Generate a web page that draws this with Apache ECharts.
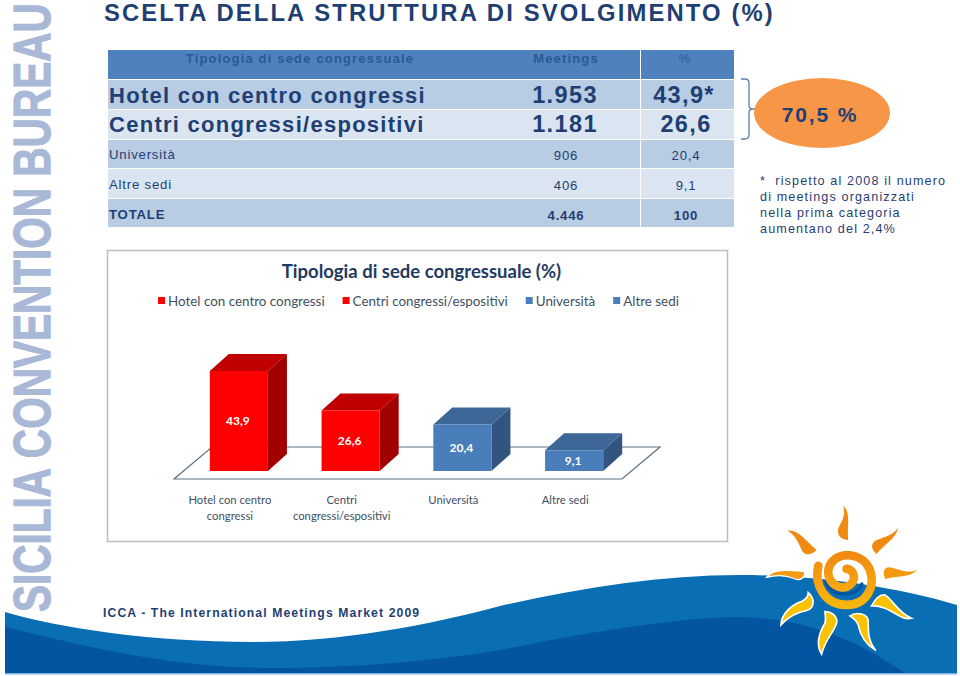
<!DOCTYPE html>
<html><head><meta charset="utf-8">
<style>
html,body{margin:0;padding:0;background:#fff}
#c{width:960px;height:676px}
svg text{letter-spacing:.09em}
svg text[style*="Lato"],svg text[style*="53px"]{letter-spacing:0}
svg text[style*="22px"],svg text[style*="23.5px"]{letter-spacing:.058em}
svg text[style*="13.2px"]{letter-spacing:.06em}
</style>
<script src="https://cdn.jsdelivr.net/npm/echarts@6/dist/echarts.min.js"></script>
</head><body><div id="c"></div>
<script>
var pageTitle = 'SCELTA DELLA STRUTTURA DI SVOLGIMENTO (%)';
var sideBrand = 'SICILIA CONVENTION BUREAU';
var source = 'ICCA - The International Meetings Market 2009';
var tableHead = ['Tipologia di sede congressuale', 'Meetings', '%'];
var tableNames = ['Hotel con centro congressi', 'Centri congressi/espositivi', 'Università', 'Altre sedi', 'TOTALE'];
var tableMeetings = ['1.953', '1.181', '906', '406', '4.446'];
var tablePercent = ['43,9*', '26,6', '20,4', '9,1', '100'];
var calloutText = '70,5 %';
var noteLines = ['*  rispetto al 2008 il numero', 'di meetings organizzati', 'nella prima categoria', 'aumentano del 2,4%'];
var chartTitle = 'Tipologia di sede congressuale (%)';
var categories = ['Hotel con centro\ncongressi', 'Centri\ncongressi/espositivi', 'Università', 'Altre sedi'];
var seriesNames = ['Hotel con centro congressi', 'Centri congressi/espositivi', 'Università', 'Altre sedi'];
var values = [43.9, 26.6, 20.4, 9.1];
var barColors = ['#fe0000', '#fe0000', '#4a7ebb', '#4a7ebb'];
var barTops = ['#c00000', '#c00000', '#3d6797', '#3d6797'];
var barSides = ['#a00000', '#a00000', '#31557f', '#31557f'];

var navy = '#1f3f73';
var FONT = 'Liberation Sans';
var CHARTFONT = 'Lato';
var under = [], over = [];
function add(el, z) { (z >= 3 ? over : under).push(el); }
function T(x, y, s, size, o) {
  o = o || {};
  add({ type: 'text', x: x, y: y, z2: 10,
    style: { text: s, fill: o.c || navy, font: (o.b ? 'bold ' : '') + size + 'px "' + (o.f || FONT) + '"',
      textAlign: o.a || 'left', textVerticalAlign: 'middle' } }, 5);
}
function R(x, y, w, h, c, z) {
  add({ type: 'rect', shape: { x: x, y: y, width: w, height: h }, style: { fill: c } }, z || 1);
}
function P(d, style, z, extra) {
  var e = { type: 'path', shape: { pathData: d }, style: style };
  if (extra) for (var k in extra) e[k] = extra[k];
  add(e, z || 1);
}

// page heading and side lettering
T(104, 12, pageTitle, 23.8, { b: 1 });
add({ type: 'text', x: 58, y: 612, rotation: Math.PI / 2, scaleX: 0.765, scaleY: 0.97,
  style: { text: sideBrand, font: 'bold 53px "' + FONT + '"', textAlign: 'left', textVerticalAlign: 'bottom',
    fill: '#a9b8d6', stroke: '#a9b8d6', lineWidth: 1.2 } }, 5);

// waves
P('M5,612 C60,628 150,642 253,642 C340,642 430,625 500,606 C580,588 660,575 740,575 C810,575 890,585 957,605 L957,673 L5,673 Z', { fill: '#0a6eb4' }, 1);
P('M5,627 C80,645 170,668 270,668 C360,668 440,660 500,650 C590,632 680,617 740,617 C800,618 850,635 905,673 L5,673 Z', { fill: '#0455a1' }, 1);
R(5, 673, 952, 1.5, '#7fb2dc', 1);

// table
var colX = [108, 641, 734];
var rowY = [50, 80, 110, 140, 169, 199, 228];
var rowFill = ['#4f81bd', '#b8cce4', '#dbe5f1', '#b8cce4', '#dbe5f1', '#b8cce4'];
rowFill.forEach(function (c, i) {
  R(colX[0], rowY[i], colX[1] - colX[0] - 1, rowY[i + 1] - rowY[i] - 1, c, 1);
  R(colX[1], rowY[i], colX[2] - colX[1], rowY[i + 1] - rowY[i] - 1, c, 1);
});
var headColor = '#2a5a96';
T(300, 58, tableHead[0], 13, { a: 'center', b: 1, c: headColor });
T(566, 58, tableHead[1], 13, { a: 'center', b: 1, c: headColor });
T(685, 58, tableHead[2], 13, { a: 'center', c: headColor });
tableNames.forEach(function (n, i) {
  var isBig = i < 2, bold = i < 2 || i === 4;
  var yc = [95, 124, 154, 184, 214][i];
  T(109, yc, n, isBig ? 22 : 13.2, { b: bold });
  var numSize = isBig ? 23.5 : 13.2;
  T(isBig ? 565 : 566, yc + (isBig ? 0 : 1), tableMeetings[i], numSize, { a: 'center', b: bold });
  T(i === 0 ? 684 : 686, yc + (isBig ? 0 : 1), tablePercent[i], numSize, { a: 'center', b: bold });
});

// callout
P('M741,79 L745,79 Q749,79 749,83 L749,105 Q749,109 753,109 L760,109 M753,109 Q749,109 749,113 L749,135 Q749,139 745,139 L741,139', { stroke: '#5b7fa6', lineWidth: 1.3, fill: null }, 2);
P('M754,113 A68,35 0 1,1 890,113 A68,35 0 1,1 754,113 Z', { fill: '#f79646' }, 3);
T(820, 114, calloutText, 21, { b: 1, a: 'center' });
noteLines.forEach(function (s, i) { T(760, 181 + i * 16, s, 12.6); });

// source
T(103, 613, source, 12.2, { b: 1 });

// chart frame + 3D floor
add({ type: 'rect', shape: { x: 107.5, y: 250.5, width: 620, height: 291 }, style: { fill: '#fff', stroke: '#bdbdbd', lineWidth: 1.5 } }, 1);
P('M174,479 L622,479 L660,447 L212,447 Z', { fill: '#fff', stroke: '#5c7180', lineWidth: 1.2 }, 1);

// sun
var sunT = { x: 740, y: 490, scaleX: 1 / 3, scaleY: 1 / 3 };
var sunParts = [
  ['M310,47 C335,70 320,110 325,150 C300,150 285,130 300,105 C312,85 315,70 310,47 Z', '#f08a12', 0],
  ['M475,113 C470,145 430,165 410,192 C395,180 390,160 410,150 C435,140 460,135 475,113 Z', '#f08a12', 0],
  ['M143,122 C175,118 195,150 230,180 C215,195 195,200 185,180 C175,155 165,135 143,122 Z', '#f08a12', 0],
  ['M532,240 C510,265 470,255 437,268 C428,250 430,235 445,232 C470,232 500,255 532,240 Z', '#f39a10', 0],
  ['M80,262 C100,235 140,240 195,245 C195,265 180,275 160,265 C135,255 110,255 80,262 Z', '#f39a10', 4],
  ['M515,385 C480,395 450,345 395,348 C405,330 420,312 435,315 C460,330 475,370 515,385 Z', '#f8c205', 5],
  ['M330,378 C350,365 385,370 385,395 C385,430 385,455 408,482 C370,460 360,430 355,405 C350,390 340,385 330,378 Z', '#f8c205', 5],
  ['M255,365 C275,365 295,380 290,400 C280,430 255,450 245,493 C225,460 240,425 255,400 C260,385 255,375 255,365 Z', '#f8c205', 5],
  ['M205,308 C225,325 225,355 200,362 C170,368 145,380 123,405 C125,370 155,345 185,335 C195,330 205,320 205,308 Z', '#f8c205', 5]
];
sunParts.forEach(function (p) {
  P(p[0], { fill: p[1], stroke: p[2] ? '#fff' : null, lineWidth: p[2] }, 4, sunT);
});
P('M258,275 C265,305 300,318 335,310 C350,306 360,295 366,282', { stroke: '#0455a1', lineWidth: 10, fill: null, lineCap: 'round' }, 4, sunT);
P('M235,228 C222,285 255,345 320,345 C380,345 408,290 390,240 C370,190 300,180 272,222 C250,262 285,302 322,290 C350,278 348,240 320,237', {
  stroke: { type: 'linear', x: 0, y: 0, x2: 0, y2: 1, colorStops: [{ offset: 0, color: '#f08a12' }, { offset: 1, color: '#fbb60d' }] },
  lineWidth: 26, fill: null, lineCap: 'round' }, 4, sunT);

function bar3d(idx) {
  return function (params, api) {
    var top = api.coord([idx, api.value(1)]);
    var base = api.coord([idx, 0]);
    var w = api.size([1, 0])[0] * 0.52;
    var dx = 19, dy = 17;
    var x0 = base[0] - w / 2, x1 = base[0] + w / 2, yt = top[1], yb = base[1];
    return { type: 'group', children: [
      { type: 'polygon', shape: { points: [[x1, yt], [x1 + dx, yt - dy], [x1 + dx, yb - dy], [x1, yb]] }, style: { fill: barSides[idx] } },
      { type: 'polygon', shape: { points: [[x0, yt], [x0 + dx, yt - dy], [x1 + dx, yt - dy], [x1, yt]] }, style: { fill: barTops[idx] } },
      { type: 'rect', shape: { x: x0, y: yt, width: w, height: yb - yt }, style: { fill: barColors[idx] } },
      { type: 'text', x: base[0] - 1, y: (yt + yb) / 2, style: { text: String(api.value(1)).replace('.', ','), fill: '#fff',
        font: 'bold 12px "' + CHARTFONT + '"', textAlign: 'center', textVerticalAlign: 'middle' } }
    ] };
  };
}
function decor(list) {
  return function () { return { type: 'group', children: list }; };
}

var chart = echarts.init(document.getElementById('c'), null, { renderer: 'svg', width: 960, height: 676 });
chart.setOption({
  animation: false,
  backgroundColor: '#fff',
  title: { text: chartTitle, left: 416.5, top: 256, textAlign: 'center', z: 4,
    textStyle: { color: '#1f3a5f', fontSize: 18.5, fontWeight: 'bold', fontFamily: CHARTFONT } },
  legend: { left: 158, top: 294, padding: 0, itemWidth: 7, itemHeight: 7, itemGap: 18, icon: 'rect', selectedMode: false, z: 4,
    data: seriesNames.map(function (n, i) { return { name: n, itemStyle: { color: barColors[i] } }; }),
    textStyle: { color: '#3f4f60', fontSize: 13.4, fontFamily: CHARTFONT, padding: [0, 0, 0, -2] } },
  grid: { left: 183, top: 357.1, width: 447, height: 113.9 },
  xAxis: { type: 'category', data: categories, z: 4, axisLine: { show: false }, axisTick: { show: false },
    axisLabel: { margin: 20, color: '#3f4f60', fontSize: 11.3, lineHeight: 16, fontFamily: CHARTFONT, interval: 0, padding: [0, 18, 0, 0] } },
  yAxis: { type: 'value', min: 0, max: 50, show: false },
  series: [
    { type: 'custom', coordinateSystem: 'none', silent: true, z: 1, renderItem: decor(under), data: [[0]] }
  ].concat(seriesNames.map(function (n, i) {
    return { name: n, type: 'custom', z: 3, silent: true, renderItem: bar3d(i), encode: { x: 0, y: 1 },
      itemStyle: { color: barColors[i] }, data: [[i, values[i]]] };
  })).concat([
    { type: 'custom', coordinateSystem: 'none', silent: true, z: 5, renderItem: decor(over), data: [[0]] }
  ])
});
</script></body></html>
